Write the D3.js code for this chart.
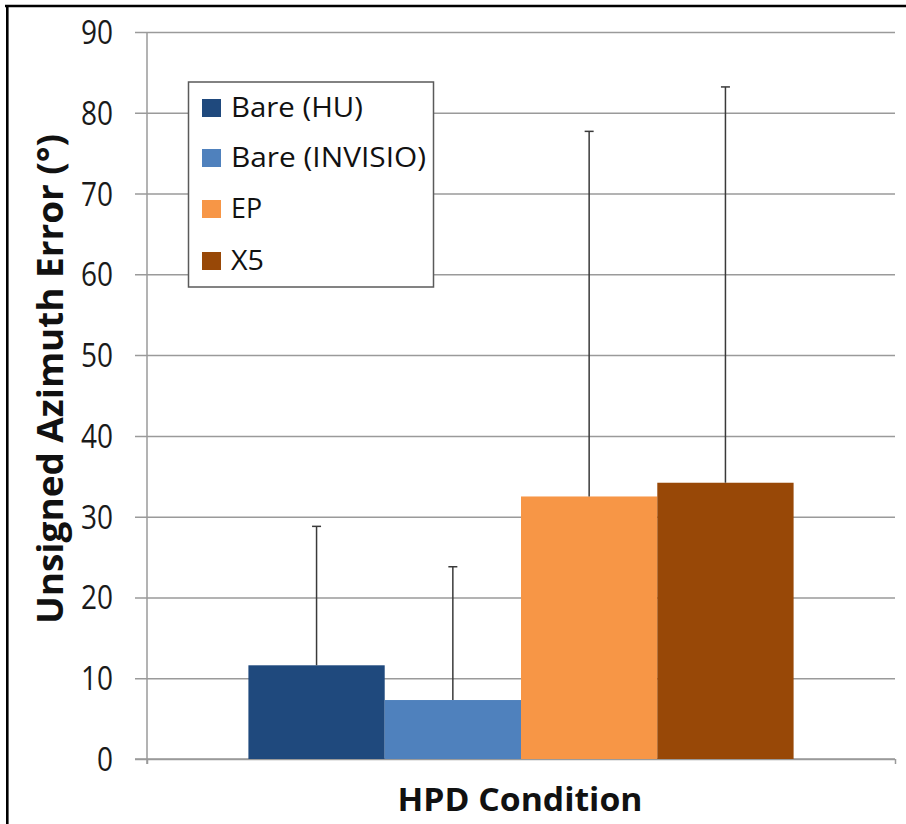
<!DOCTYPE html>
<html>
<head>
<meta charset="utf-8">
<script src="https://cdn.jsdelivr.net/npm/d3@7"></script>
<style>
  html, body { margin: 0; padding: 0; background: #fff; }
  svg { display: block; }
  text { font-family: "Open Sans", Lato, sans-serif; }
</style>
</head>
<body>
<svg id="chart" width="906" height="824"></svg>
<script>
// ---- data ----
const categories = ["HPD Condition"];
const seriesNames = ["Bare (HU)", "Bare (INVISIO)", "EP", "X5"];
const meanValues = [11.6, 7.3, 32.5, 34.2];
const sdValues = [17.2, 16.5, 45.2, 49.0];
const yTicks = [0, 10, 20, 30, 40, 50, 60, 70, 80, 90];
const seriesColors = ["#1F497D", "#4F81BD", "#F79646", "#984807"];
const yTitle = "Unsigned Azimuth Error (°)";
const xTitle = "HPD Condition";

const svg = d3.select("#chart");
const plot = { left: 147, right: 895, top: 32, bottom: 759 };
const CAP = 0.714; // Open Sans cap height ratio
const FONT = "'Open Sans', Lato, sans-serif";

const y = d3.scaleLinear().domain([0, 90]).range([plot.bottom, plot.top]);
const x0 = d3.scaleBand().domain(categories).range([plot.left, plot.right])
  .paddingInner(0).paddingOuter(0.186);
const x1 = d3.scaleBand().domain(seriesNames).range([0, x0.bandwidth()]).padding(0);

function fitText(sel, width) {
  sel.attr("textLength", width).attr("lengthAdjust", "spacingAndGlyphs");
}

// border (top and left)
svg.append("line").attr("x1", 5).attr("x2", 906).attr("y1", 6).attr("y2", 6)
  .attr("stroke", "#000").attr("stroke-width", 2.6);
svg.append("line").attr("x1", 7.3).attr("x2", 7.3).attr("y1", 5).attr("y2", 824)
  .attr("stroke", "#000").attr("stroke-width", 2.6);

// gridlines + y ticks
const yAxis = d3.axisLeft(y).tickValues(yTicks).tickSize(12).tickFormat(d3.format("d"));
const gy = svg.append("g").attr("transform", `translate(${plot.left},0)`).call(yAxis);
gy.select(".domain").remove();
gy.selectAll(".tick line").attr("stroke", "#9a9a9a").attr("stroke-width", 1.5)
  .attr("x1", -12).attr("x2", plot.right - plot.left);
gy.selectAll(".tick text")
  .attr("x", -34).attr("dy", null).attr("y", 11.5)
  .attr("fill", "#1a1a1a")
  .style("font-family", FONT)
  .style("font-size", (23 / CAP) + "px")
  .attr("text-anchor", "end")
  .each(function(d) {
    const s = String(d);
    d3.select(this).call(fitText, s.length === 1 ? 16 : 32);
  });

// y axis line
svg.append("line").attr("x1", plot.left).attr("x2", plot.left)
  .attr("y1", plot.top).attr("y2", plot.bottom + 5)
  .attr("stroke", "#9a9a9a").attr("stroke-width", 1.5);
// x axis line with end tick
const xAxis = d3.axisBottom(d3.scaleLinear().domain([0, 1]).range([plot.left, plot.right]))
  .tickValues([0, 1]).tickSize(5).tickFormat("");
const gx = svg.append("g").attr("transform", `translate(0,${plot.bottom})`).call(xAxis);
gx.select(".domain").attr("stroke", "#9a9a9a").attr("stroke-width", 1.5).attr("d", `M${plot.left - 12},0H${plot.right}`);
gx.selectAll(".tick line").attr("stroke", "#9a9a9a").attr("stroke-width", 1.5);

// bars
const data = seriesNames.map((s, i) => ({ name: s, mean: meanValues[i], sd: sdValues[i], color: seriesColors[i], cat: categories[0] }));
const gb = svg.append("g");
gb.selectAll("rect").data(data).join("rect")
  .attr("x", d => x0(d.cat) + x1(d.name))
  .attr("width", x1.bandwidth())
  .attr("y", d => y(d.mean))
  .attr("height", d => y(0) - y(d.mean))
  .attr("fill", d => d.color);

// error bars (positive only)
const ge = svg.append("g").attr("stroke", "#3a3a3a").attr("stroke-width", 1.5);
data.forEach(d => {
  const cx = x0(d.cat) + x1(d.name) + x1.bandwidth() / 2;
  ge.append("line").attr("x1", cx).attr("x2", cx).attr("y1", y(d.mean)).attr("y2", y(d.mean + d.sd));
  ge.append("line").attr("x1", cx - 4.5).attr("x2", cx + 4.5).attr("y1", y(d.mean + d.sd)).attr("y2", y(d.mean + d.sd));
});

// legend
const lg = svg.append("g");
lg.append("rect").attr("x", 188.5).attr("y", 82).attr("width", 245).attr("height", 205)
  .attr("fill", "#fff").attr("stroke", "#5a5a5a").attr("stroke-width", 1.5);
const legendWidths = [132, 195, 31, 33];
const rowBase = [117, 167, 218, 270];
data.forEach((d, i) => {
  lg.append("rect").attr("x", 202).attr("y", rowBase[i] - 18).attr("width", 19).attr("height", 18).attr("fill", d.color);
  lg.append("text").attr("x", 231).attr("y", rowBase[i])
    .style("font-family", FONT)
    .style("font-size", (19.5 / CAP) + "px").attr("fill", "#111")
    .text(d.name).call(fitText, legendWidths[i]);
});

// axis titles
svg.append("text").attr("x", 520).attr("y", 811).attr("text-anchor", "middle")
  .style("font-family", FONT)
  .style("font-size", (23 / CAP) + "px").style("font-weight", "bold").attr("fill", "#111")
  .text(xTitle).call(fitText, 245);
svg.append("text").attr("transform", "translate(63,379) rotate(-90)").attr("text-anchor", "middle")
  .style("font-family", FONT)
  .style("font-size", (26 / CAP) + "px").style("font-weight", "bold").attr("fill", "#111")
  .text(yTitle).call(fitText, 490);
</script>
</body>
</html>
